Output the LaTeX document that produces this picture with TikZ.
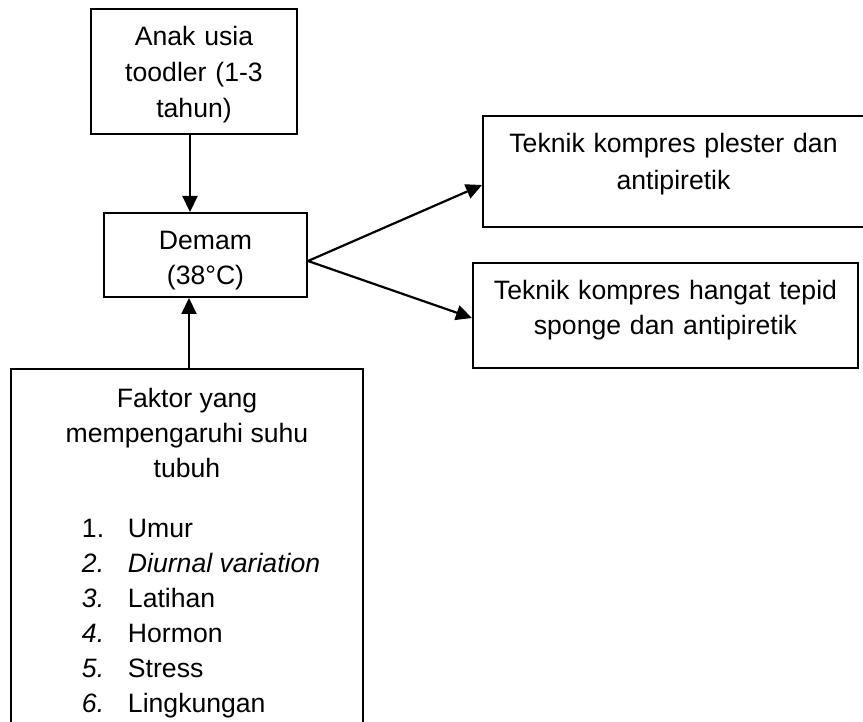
\documentclass[tikz,border=0pt]{standalone}
\usepackage{fontspec}
\setmainfont{Liberation Sans}
\usetikzlibrary{arrows.meta,positioning}
\setlength{\parindent}{0pt}
\tikzset{
kotak/.style = {draw, rectangle, line width=2pt, inner sep=0pt, align=center, text height=36.5pt},
tmp/.style   = {coordinate}
}

\begin{document}
\begin{tikzpicture}[auto, line width=2.2pt, >={Triangle[length=16pt,width=15pt]}, font=\fontsize{26.6pt}{35.5pt}\selectfont]
  \clip (0pt,0pt) rectangle (863pt,-722pt);

  \node [kotak, text width=206pt, text depth=88.5pt, anchor=north, font=\fontsize{26.6pt}{36pt}\selectfont] (anak) at (194pt,-8pt) {Anak usia\\toodler (1-3\\tahun)};
  \node [kotak, text width=203pt, text depth=47.5pt, below=77pt of anak, xshift=11.5pt]                  (demam)   {Demam\\(38°C)};
  \node [kotak, text width=352pt, text height=38.5pt, text depth=327.5pt, align=none, below=70pt of demam, xshift=-18.5pt, font=\fontsize{26.6pt}{35pt}\selectfont] (faktor) {%
    {\centering Faktor yang\\mempengaruhi suhu\\tubuh\par}
    \vspace{25pt}
    \hspace*{71pt}\makebox[46pt][l]{1.}Umur\\
    \hspace*{71pt}\makebox[46pt][l]{\itshape 2.}\textit{Diurnal variation}\\
    \hspace*{71pt}\makebox[46pt][l]{\itshape 3.}Latihan\\
    \hspace*{71pt}\makebox[46pt][l]{\itshape 4.}Hormon\\
    \hspace*{71pt}\makebox[46pt][l]{\itshape 5.}Stress\\
    \hspace*{71pt}\makebox[46pt][l]{\itshape 6.}Lingkungan};
  \node [kotak, text width=381pt, text depth=74.5pt, right=174pt of demam.north east, anchor=north west, yshift=97pt, font=\fontsize{26.6pt}{37pt}\selectfont] (plester) {Teknik kompres plester dan\\antipiretik};
  \node [kotak, text width=385pt, text depth=68.5pt, right=164pt of demam.north east, anchor=north west, yshift=-50pt]  (tepid)   {Teknik kompres hangat tepid\\sponge dan antipiretik};
  \coordinate [yshift=-6pt] (cabang) at (demam.east);

  \draw [->] ([xshift=-4pt]anak.south) -- ([xshift=-4pt]anak.south |- demam.north);
  \draw [->] ([xshift=2pt]faktor.north) -- ([xshift=2pt]faktor.north |- demam.south);
  \draw [->] (cabang) -- ([yshift=-13.5pt]plester.west);
  \draw [->] (cabang) -- ([yshift=-2.5pt]tepid.west);
\end{tikzpicture}
\end{document}
